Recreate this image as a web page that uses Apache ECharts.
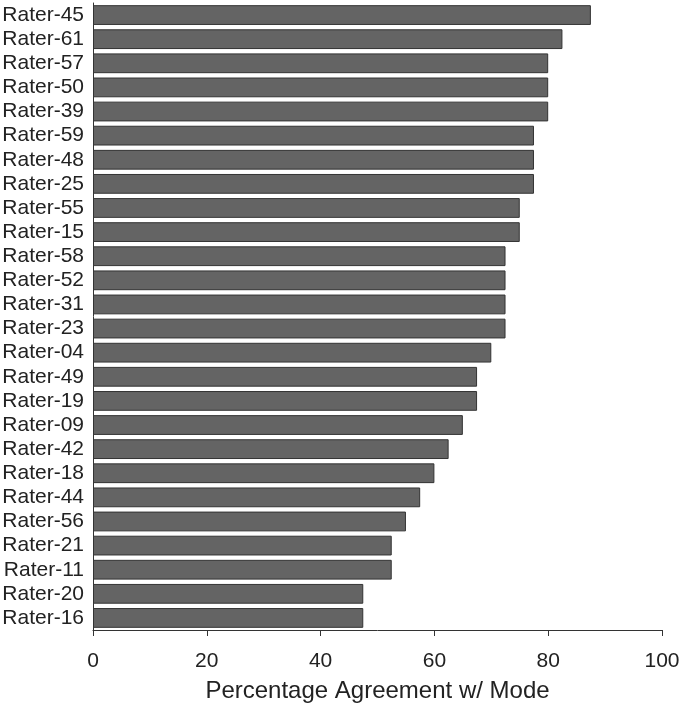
<!DOCTYPE html>
<html>
<head>
<meta charset="utf-8">
<script src="https://cdn.jsdelivr.net/npm/echarts@6/dist/echarts.min.js"></script>
<style>
  html, body { margin: 0; padding: 0; background: #ffffff; }
  #chart { width: 680px; height: 705px; }
</style>
</head>
<body>
<div id="chart"></div>
<script>
var raters = ['Rater-45', 'Rater-61', 'Rater-57', 'Rater-50', 'Rater-39', 'Rater-59', 'Rater-48',
  'Rater-25', 'Rater-55', 'Rater-15', 'Rater-58', 'Rater-52', 'Rater-31', 'Rater-23', 'Rater-04',
  'Rater-49', 'Rater-19', 'Rater-09', 'Rater-42', 'Rater-18', 'Rater-44', 'Rater-56', 'Rater-21',
  'Rater-11', 'Rater-20', 'Rater-16'];
var agreement = [87.5, 82.5, 80, 80, 80, 77.5, 77.5, 77.5, 75, 75, 72.5, 72.5, 72.5, 72.5, 70,
  67.5, 67.5, 65, 62.5, 60, 57.5, 55, 52.5, 52.5, 47.5, 47.5];
var xTicks = [0, 20, 40, 60, 80, 100];

var chartDom = document.getElementById('chart');
var myChart = echarts.init(chartDom);
var option;

option = {
  animation: false,
  backgroundColor: '#ffffff',
  grid: {
    left: 93,
    right: 18,
    top: 3,
    bottom: 75,
    containLabel: false,
    outerBoundsMode: 'none'
  },
  xAxis: {
    type: 'value',
    min: xTicks[0],
    max: xTicks[xTicks.length - 1],
    interval: 20,
    name: 'Percentage Agreement w/ Mode',
    nameLocation: 'middle',
    nameGap: 49,
    nameTextStyle: { color: '#222222', fontSize: 24, fontFamily: 'Liberation Sans' },
    axisLine: { show: true, lineStyle: { color: '#333333', width: 1 } },
    axisTick: { show: true, length: 6, lineStyle: { color: '#333333' } },
    axisLabel: { color: '#222222', fontSize: 21, fontFamily: 'Liberation Sans', margin: 21, hideOverlap: false },
    splitLine: { show: false }
  },
  yAxis: {
    type: 'category',
    inverse: true,
    data: raters,
    axisLine: { show: true, lineStyle: { color: '#333333', width: 1 } },
    axisTick: { show: false },
    axisLabel: { interval: 0, color: '#222222', fontSize: 21, fontFamily: 'Liberation Sans', margin: 9 }
  },
  series: [
    {
      name: 'Agreement',
      type: 'bar',
      data: agreement,
      barCategoryGap: '18%',
      itemStyle: {
        color: '#646464',
        borderColor: '#333333',
        borderWidth: 1
      }
    }
  ]
};

option && myChart.setOption(option);
</script>
</body>
</html>
